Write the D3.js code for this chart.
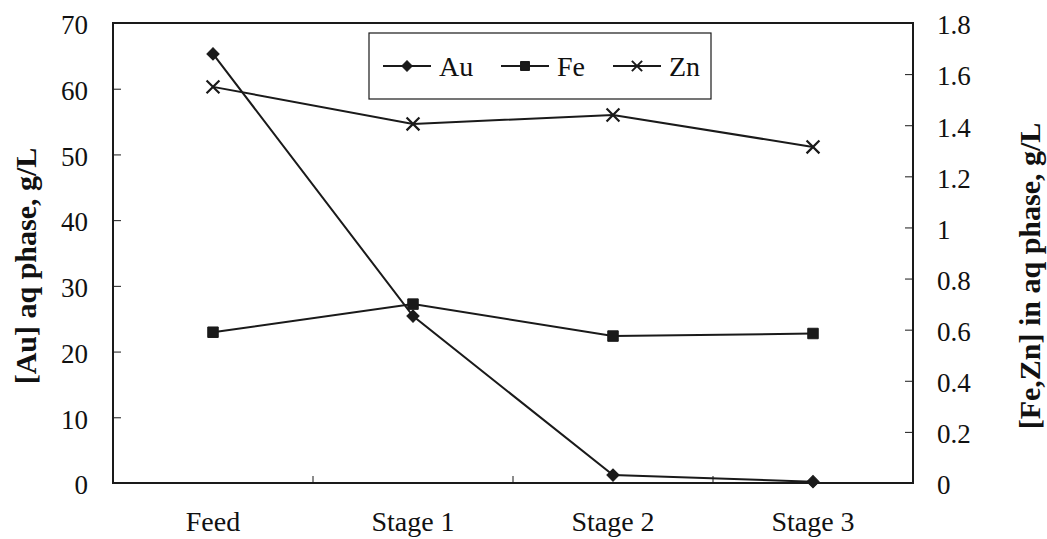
<!DOCTYPE html>
<html>
<head>
<meta charset="utf-8">
<script src="https://cdn.jsdelivr.net/npm/d3@7"></script>
<style>
  body { margin: 0; background: #fff; }
</style>
</head>
<body>
<div id="chart"></div>
<script>
var categories = ["Feed", "Stage 1", "Stage 2", "Stage 3"];
var auValues = [65.3, 25.4, 1.2, 0.2];       // left axis, g/L
var feValues = [0.59, 0.70, 0.575, 0.585];   // right axis, g/L
var znValues = [1.55, 1.405, 1.44, 1.315];   // right axis, g/L
var leftTicks = [0, 10, 20, 30, 40, 50, 60, 70];
var rightTicks = [0, 0.2, 0.4, 0.6, 0.8, 1, 1.2, 1.4, 1.6, 1.8];
var seriesNames = ["Au", "Fe", "Zn"];

var W = 1047, H = 539;
var m = { left: 113, right: 134, top: 23, bottom: 56 };
var ink = "#1a1a1a";
var serif = "Liberation Serif";

var svg = d3.select("#chart").append("svg")
    .attr("width", W).attr("height", H);

var x = d3.scaleBand().domain(categories).range([m.left, W - m.right]);
var yL = d3.scaleLinear().domain([0, 70]).range([H - m.bottom, m.top]);
var yR = d3.scaleLinear().domain([0, 1.8]).range([H - m.bottom, m.top]);
var cx = function(c) { return x(c) + x.bandwidth() / 2; };

// frame
svg.append("rect")
    .attr("x", m.left).attr("y", m.top)
    .attr("width", W - m.left - m.right).attr("height", H - m.top - m.bottom)
    .attr("fill", "none").attr("stroke", ink).attr("stroke-width", 2);

// left axis
var gl = svg.append("g").attr("transform", "translate(" + m.left + ",0)")
    .call(d3.axisLeft(yL).tickValues(leftTicks).tickSize(-8).tickPadding(25));
// right axis
var gr = svg.append("g").attr("transform", "translate(" + (W - m.right) + ",0)")
    .call(d3.axisRight(yR).tickValues(rightTicks).tickSize(-8).tickPadding(24)
        .tickFormat(d3.format("~g")));
// bottom axis: labels only, ticks at category boundaries
var gb = svg.append("g").attr("transform", "translate(0," + (H - m.bottom) + ")")
    .call(d3.axisBottom(x).tickSize(0).tickPadding(0));
gb.selectAll(".tick text").attr("y", 48).attr("dy", 0);
svg.append("g").selectAll("line")
    .data(categories.slice(1))
    .enter().append("line")
    .attr("x1", function(d) { return x(d); }).attr("x2", function(d) { return x(d); })
    .attr("y1", H - m.bottom).attr("y2", H - m.bottom - 7)
    .attr("stroke", ink).attr("stroke-width", 1);

[gl, gr, gb].forEach(function(g) {
    g.attr("font-family", serif).attr("font-size", 27);
    g.select(".domain").remove();
    g.selectAll(".tick line").attr("stroke", ink).attr("stroke-width", 1);
    g.selectAll(".tick text").attr("fill", "#111");
});
gb.attr("font-size", 28);
gl.selectAll(".tick text").attr("dy", "0.4em");
gr.selectAll(".tick text").attr("dy", "0.4em");

// axis titles
svg.append("text")
    .attr("transform", "translate(36,266) rotate(-90)")
    .attr("text-anchor", "middle").attr("font-size", 30).attr("font-weight", "bold")
    .attr("font-family", serif).attr("fill", "#111")
    .text("[Au] aq phase, g/L");
svg.append("text")
    .attr("transform", "translate(1040,276) rotate(-90)")
    .attr("text-anchor", "middle").attr("font-size", 30).attr("font-weight", "bold")
    .attr("font-family", serif).attr("fill", "#111")
    .text("[Fe,Zn] in aq phase, g/L");

// series
var series = [
    { name: "Au", values: auValues, y: yL, sym: d3.symbolSquare, size: 75, rot: 45 },
    { name: "Fe", values: feValues, y: yR, sym: d3.symbolSquare, size: 110, rot: 0 },
    { name: "Zn", values: znValues, y: yR, sym: d3.symbolX, size: 110, rot: 0 }
];

var line = d3.line();
series.forEach(function(s) {
    var pts = s.values.map(function(v, i) { return [cx(categories[i]), s.y(v)]; });
    svg.append("path").attr("d", line(pts))
        .attr("fill", "none").attr("stroke", ink).attr("stroke-width", 2);
    svg.append("g").selectAll("path").data(pts).enter().append("path")
        .attr("transform", function(p) { return "translate(" + p[0] + "," + p[1] + ") rotate(" + s.rot + ")"; })
        .attr("d", d3.symbol().type(s.sym).size(s.size))
        .attr("fill", s.sym === d3.symbolX ? "none" : ink)
        .attr("stroke", ink).attr("stroke-width", s.sym === d3.symbolX ? 2.2 : 1);
});

// legend
var lg = svg.append("g").attr("transform", "translate(369,33)");
lg.append("rect").attr("width", 342).attr("height", 66)
    .attr("fill", "#fff").attr("stroke", ink).attr("stroke-width", 1.2);
var lx = [14, 132, 244];
series.forEach(function(s, i) {
    var g = lg.append("g").attr("transform", "translate(" + lx[i] + ",33)");
    g.append("line").attr("x1", 0).attr("x2", 48).attr("stroke", ink).attr("stroke-width", 2);
    g.append("path").attr("transform", "translate(24,0) rotate(" + s.rot + ")")
        .attr("d", d3.symbol().type(s.sym).size(s.sym === d3.symbolX ? 70 : (s.rot ? 55 : 80)))
        .attr("fill", s.sym === d3.symbolX ? "none" : ink)
        .attr("stroke", ink).attr("stroke-width", s.sym === d3.symbolX ? 2 : 1);
    g.append("text").attr("x", 56).attr("y", 10)
        .attr("font-size", 28).attr("font-family", serif).attr("fill", "#111")
        .text(seriesNames[i]);
});
</script>
</body>
</html>
